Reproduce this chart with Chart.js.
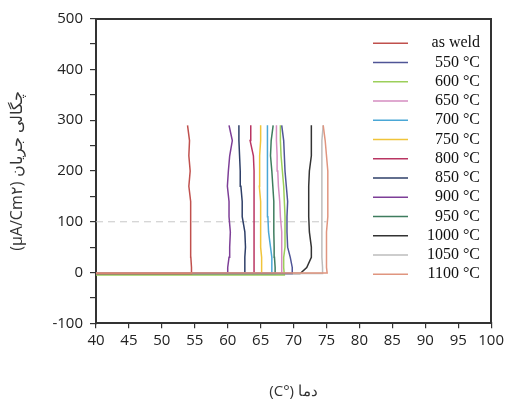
<!DOCTYPE html>
<html>
<head>
<meta charset="utf-8">
<script src="https://cdn.jsdelivr.net/npm/chart.js@4/dist/chart.umd.min.js"></script>
<style>
  html, body { margin: 0; padding: 0; background: #ffffff; }
  #chart { display: block; }
</style>
</head>
<body>
<canvas id="chart" width="507" height="400"></canvas>
<script>
// legend labels and colours
const seriesLabels = ['as weld', '550 °C', '600 °C', '650 °C', '700 °C', '750 °C', '800 °C',
  '850 °C', '900 °C', '950 °C', '1000 °C', '1050 °C', '1100 °C'];
const seriesColors = ['#c0504d', '#4f5596', '#9ccf5a', '#d58cc0', '#4aa7d6', '#f0c43a', '#b93562',
  '#2e3f68', '#7d3e97', '#3e7c5e', '#333333', '#bdbdbd', '#e0957f'];

// current density (µA/cm²) levels
const startPotential = 40;
const baseCurrent = [-2, -2, -5, -2, -2, -2, -2, -2, -2, -2, -2, -2, -1];
const currentLevels = [10, 30, 50, 80, 110, 140, 170, 200, 230, 260, 290];

// temperature at the corner, then at each current level
const tAsWeld = [54.5, 54.5, 54.4, 54.4, 54.4, 54.4, 54.3, 54.1, 54.3, 54.1, 54.2, 53.9];
const t550 = [69.9, 69.8, 69.5, 69.1, 69.0, 69.0, 69.1, 68.9, 68.7, 68.6, 68.5, 68.2];
const t600 = [68.6, 68.5, 68.5, 68.7, 68.7, 68.7, 68.6, 68.5, 68.3, 68.1, 68.0, 68.0];
const t650 = [68.2, 68.2, 68.2, 68.2, 68.2, 68.0, 67.9, 67.7, 67.6, 67.5, 67.4, 67.4];
const t700 = [66.7, 66.7, 66.7, 66.5, 66.2, 66.1, 66.1, 66.0, 66.1, 66.0, 66.0, 66.0];
const t750 = [65.2, 65.2, 65.1, 65.0, 65.0, 65.0, 65.0, 64.8, 64.8, 64.9, 65.0, 65.0];
const t800 = [64.0, 64.0, 64.0, 64.0, 64.0, 64.0, 64.0, 64.0, 64.0, 63.9, 63.4, 63.5];
const t850 = [62.6, 62.6, 62.6, 62.7, 62.6, 62.2, 62.2, 62.0, 61.9, 61.8, 61.7, 61.7];
const t900 = [59.95, 60.0, 60.2, 60.3, 60.4, 60.2, 60.2, 59.95, 60.1, 60.3, 60.7, 60.2];
const t950 = [67.2, 67.2, 67.1, 67.05, 67.0, 67.0, 67.0, 66.85, 66.7, 66.5, 66.6, 66.9];
const t1000 = [71.0, 72.0, 72.7, 72.7, 72.4, 72.3, 72.3, 72.3, 72.4, 72.7, 72.7, 72.7];
const t1050 = [74.4, 74.4, 74.3, 74.3, 74.3, 74.3, 74.3, 74.3, 74.3, 74.3, 74.3, 74.5];
const t1100 = [75.1, 75.0, 75.0, 75.0, 75.0, 75.2, 75.2, 75.2, 75.2, 75.0, 74.8, 74.5];

const seriesTemps = [tAsWeld, t550, t600, t650, t700, t750, t800, t850, t900, t950, t1000, t1050, t1100];

// dashed reference line at 100
const refLineX = [40, 75];
const refLineY = 100;

// axis ranges
const xMin = 40, xMax = 100, xStep = 5;
const yMin = -100, yMax = 500, yStep = 50;

function buildPoints(temps, base) {
  const points = [{ x: startPotential, y: base }, { x: temps[0], y: base }];
  currentLevels.forEach((level, i) => {
    points.push({ x: temps[i + 1], y: level });
  });
  return points;
}

function drawOrder(i) {
  if (i === seriesLabels.length - 1) return -1; // 1100 °C base on top
  if (seriesLabels[i] === '1000 °C') return 0.5; // under the others
  return 0;
}

const datasets = seriesLabels.map((label, i) => ({
  label,
  data: buildPoints(seriesTemps[i], baseCurrent[i]),
  borderColor: seriesColors[i],
  backgroundColor: seriesColors[i],
  borderWidth: 1.5,
  pointRadius: 0,
  tension: 0,
  order: drawOrder(i),
}));

datasets.push({
  label: 'ref',
  data: refLineX.map((x) => ({ x, y: refLineY })),
  borderColor: '#c8c8c8',
  borderWidth: 1,
  borderDash: [7, 5],
  pointRadius: 0,
  order: 1,
});

const tickFont = { family: "'Open Sans', sans-serif", size: 15 };
const axisColor = '#333333';

// legend sits inside the plot, to the right
const legendPlacer = {
  id: 'legendPlacer',
  afterLayout(chart) {
    const legend = chart.legend;
    legend.left = 369.75;
    legend.top = 32;
    legend.right = 480;
    legend.bottom = chart.height;
  },
};

new Chart(document.getElementById('chart'), {
  type: 'line',
  data: { datasets },
  plugins: [legendPlacer],
  options: {
    responsive: false,
    animation: false,
    layout: { padding: { left: 0, right: 13, top: 18.7, bottom: 0 } },
    plugins: {
      tooltip: { enabled: false },
      legend: {
        position: 'chartArea',
        align: 'start',
        labels: {
          filter: (item) => item.datasetIndex < seriesLabels.length,
          sort: (a, b) => a.datasetIndex - b.datasetIndex,
          usePointStyle: true,
          pointStyle: 'line',
          pointStyleWidth: 35,
          boxWidth: 35,
          padding: 3.25,
          textAlign: 'right',
          color: '#111111',
          font: { family: "'Liberation Serif', 'Times New Roman', serif", size: 16 },
        },
      },
    },
    scales: {
      x: {
        type: 'linear',
        min: xMin,
        max: xMax,
        afterFit: (scale) => { scale.height = 76.7; },
        ticks: {
          stepSize: xStep,
          autoSkip: false,
          maxRotation: 0,
          padding: 3,
          color: '#222222',
          font: tickFont,
        },
        grid: { drawOnChartArea: false, drawTicks: true, tickLength: 5, color: axisColor, lineWidth: 1.2 },
        border: { color: axisColor, width: 2 },
        title: {
          display: true,
          text: '\u202Bدما (°C)\u202C',
          color: '#333333',
          font: { family: "'Open Sans', sans-serif", size: 15 },
          padding: { top: 0, bottom: -1 },
        },
      },
      y: {
        min: yMin,
        max: yMax,
        afterFit: (scale) => { scale.width = 96; },
        ticks: {
          stepSize: yStep,
          autoSkip: false,
          padding: 7,
          color: '#222222',
          font: tickFont,
          callback: (value) => (value % 100 === 0 ? value : ''),
        },
        grid: { drawOnChartArea: false, drawTicks: true, tickLength: 6, color: axisColor, lineWidth: 1.2 },
        border: { color: axisColor, width: 2 },
        title: {
          display: true,
          text: '\u202Bچگالی جریان (µA/Cm۲)\u202C',
          color: '#333333',
          font: { family: "'Open Sans', sans-serif", size: 16 },
          padding: { top: 8, bottom: 0 },
        },
      },
      xTop: {
        type: 'linear',
        position: 'top',
        min: xMin,
        max: xMax,
        afterFit: (scale) => { scale.height = 0; },
        ticks: { display: false },
        grid: { display: false },
        border: { color: axisColor, width: 2 },
      },
      yRight: {
        position: 'right',
        min: yMin,
        max: yMax,
        afterFit: (scale) => { scale.width = 0; },
        ticks: { display: false },
        grid: { display: false },
        border: { color: axisColor, width: 2 },
      },
    },
  },
});
</script>
</body>
</html>
